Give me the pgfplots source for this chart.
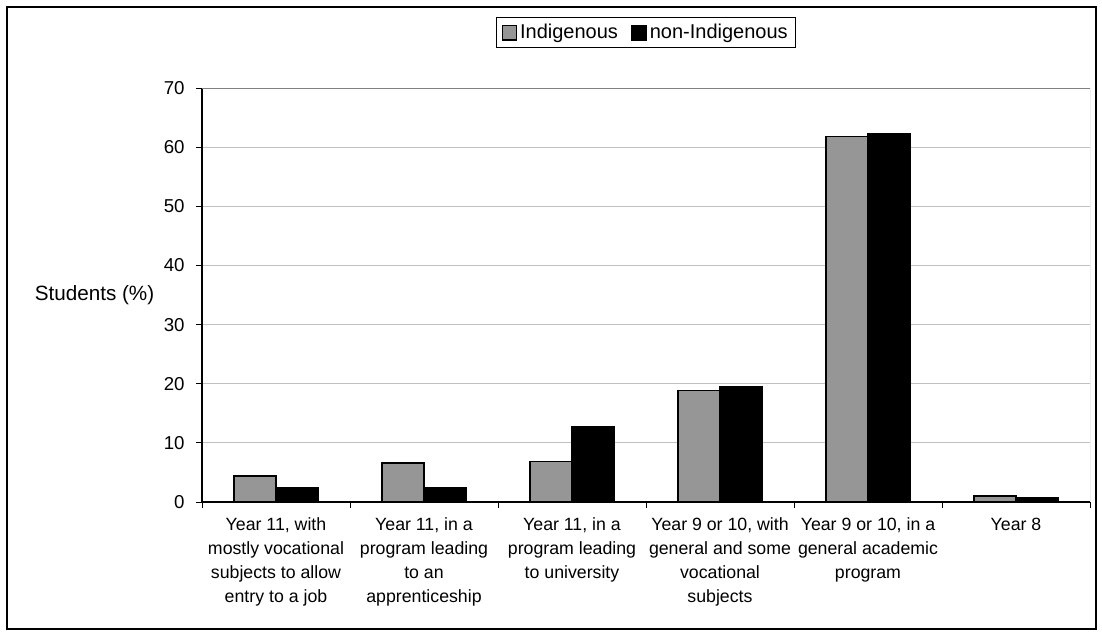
\documentclass[border=0pt]{standalone}
\usepackage{fontspec}
\setmainfont{Liberation Sans}
\usepackage{pgfplots}
\pgfplotsset{compat=1.18}

\definecolor{indig}{RGB}{150,150,150}
\definecolor{gridgray}{RGB}{192,192,192}

\begin{document}
\begin{tikzpicture}
\useasboundingbox (0,0) rectangle (826.5pt,476.25pt);
\draw[black, line width=0.8pt] (5.25pt,4.5pt) rectangle (822pt,471pt);
\begin{axis}[
  at={(151.5pt,99.75pt)}, anchor=south west,
  scale only axis, width=666pt, height=310.5pt,
  xmin=0.5, xmax=6.5, ymin=0, ymax=70,
  ytick={0,10,...,70},
  xtick={0.5,1.5,...,6.5},
  x tick label as interval,
  xticklabels={{Year 11, with\\mostly vocational\\subjects to allow\\entry to a job},
               {Year 11, in a\\program leading\\to an\\apprenticeship},
               {Year 11, in a\\program leading\\to university},
               {Year 9 or 10, with\\general and some\\vocational\\subjects},
               {Year 9 or 10, in a\\general academic\\program},
               {Year 8}},
  xticklabel style={align=center, anchor=north, yshift=-4pt,
    font=\fontsize{13.3}{18}\selectfont},
  yticklabel style={font=\fontsize{14}{16}\selectfont, xshift=-5pt},
  /pgf/number format/assume math mode=true,
  tick align=outside, major tick length=4.5pt,
  tick style={black, line width=0.6pt},
  axis x line*=bottom, axis y line*=left,
  axis line style={black, line width=0.8pt, -},
  ymajorgrids, grid style={gridgray, line width=0.6pt},
  bar width=0.284,
  legend columns=2,
  legend style={at={(0.5,1.1335)}, anchor=center, draw=black, line width=0.6pt,
    font=\fontsize{15}{17}\selectfont, inner xsep=4pt, inner ysep=3pt,
    /tikz/every even column/.append style={column sep=8pt}},
  legend image code/.code={\draw[#1, line width=0.9pt] (-4pt,-5.5pt) rectangle (7pt,5.5pt);},
]
\addplot[ybar, bar shift=-0.142, fill=indig, draw=black, line width=1pt]
  coordinates {(1,4.4) (2,6.6) (3,6.8) (4,18.8) (5,61.8) (6,1.0)};
\addlegendentry{Indigenous}
\addplot[ybar, bar shift=0.142, fill=black, draw=black, line width=1pt]
  coordinates {(1,2.4) (2,2.5) (3,12.7) (4,19.5) (5,62.2) (6,0.8)};
\addlegendentry{non-Indigenous}
\draw[gray, line width=0.6pt] (rel axis cs:0,1) -- (rel axis cs:1,1) -- (rel axis cs:1,0);
\end{axis}
\node[font=\fontsize{15.5}{18}\selectfont] at (70.9pt,255pt) {Students (\%)};
\end{tikzpicture}
\end{document}
